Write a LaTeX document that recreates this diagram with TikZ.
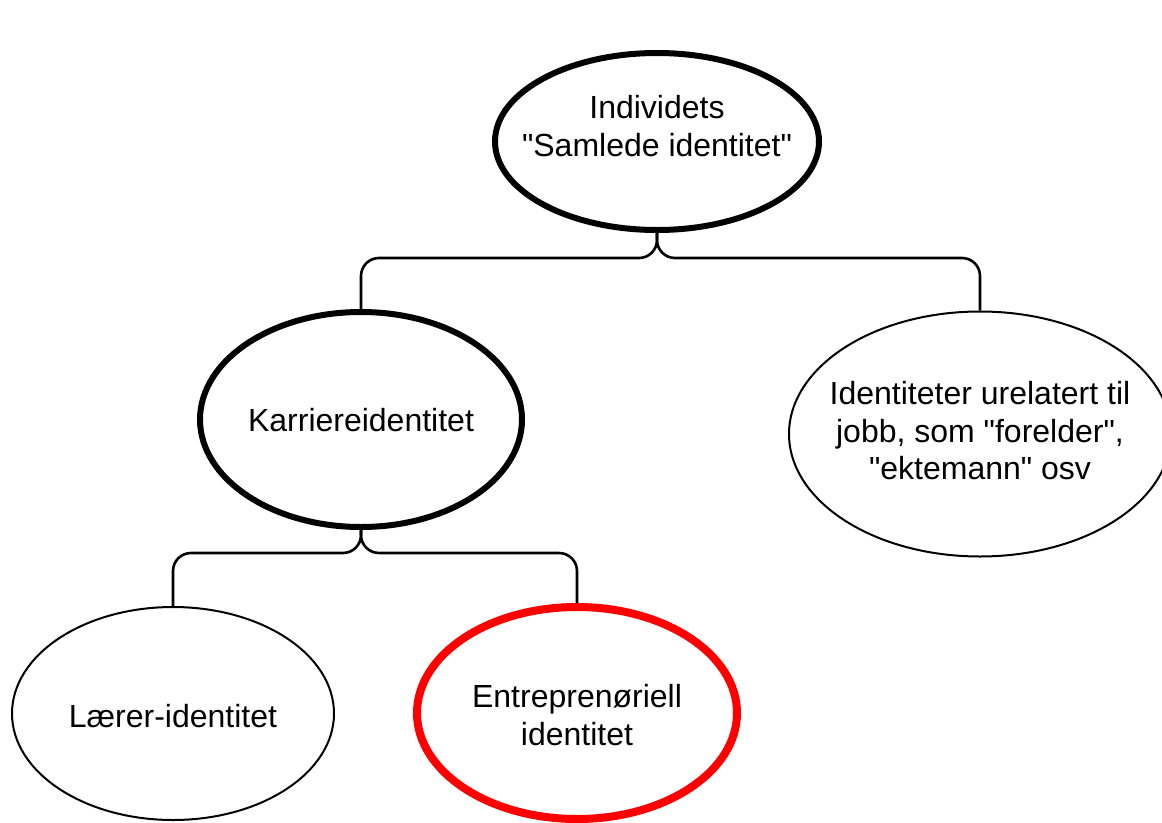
\documentclass[tikz,border=0pt]{standalone}
\usepackage{fontspec}
\setmainfont{Liberation Sans}[Ligatures=TeXOff]
\usetikzlibrary{shapes.geometric}

\tikzset{
  bubble/.style={ellipse, draw=black, inner sep=0pt, line width=2pt},
  heavy/.style={line width=6pt},
  accent/.style={draw=red, line width=8pt},
  txt/.style={align=center, inner sep=0pt, font=\fontsize{32}{37.5}\selectfont},
  conn/.style={line width=2.6pt, rounded corners=18pt},
}

\begin{document}
\begin{tikzpicture}[x=1pt, y=-1pt]
  \fill[white] (0,0) rectangle (1162,822);
  \useasboundingbox (0,0) rectangle (1162,822);

  % ellipses
  \node[bubble, heavy, minimum width=324, minimum height=177] (top) at (657,141.5) {};
  \node[bubble, heavy, minimum width=322, minimum height=215] (kar) at (361,419.5) {};
  \node[bubble, minimum width=382, minimum height=245] (oth) at (980,434) {};
  \node[bubble, minimum width=322, minimum height=213] (ler) at (173,713.5) {};
  \node[bubble, accent, minimum width=320, minimum height=212] (ent) at (577,713) {};

  % labels
  \node[txt] (toptxt) at (657,126) {Individets\\"Samlede identitet"};
  \node[txt] (kartxt) at (361,420) {Karriereidentitet};
  \node[txt] (othtxt) at (980,431) {Identiteter urelatert til\\jobb, som "forelder",\\"ektemann" osv};
  \node[txt] (lertxt) at (173,716) {Lærer-identitet};
  \node[txt] (enttxt) at (577,715) {Entreprenøriell\\identitet};

  % branching connectors
  \coordinate (j1) at (657,258);
  \coordinate (j2) at (361,553);
  \draw[conn] (top.south) -- (top.south |- j1) -| (kar.north);
  \draw[conn] (top.south) -- (top.south |- j1) -| (oth.north);
  \draw[conn] (kar.south) -- (kar.south |- j2) -| (ler.north);
  \draw[conn] (kar.south) -- (kar.south |- j2) -| (ent.north);
\end{tikzpicture}
\end{document}
